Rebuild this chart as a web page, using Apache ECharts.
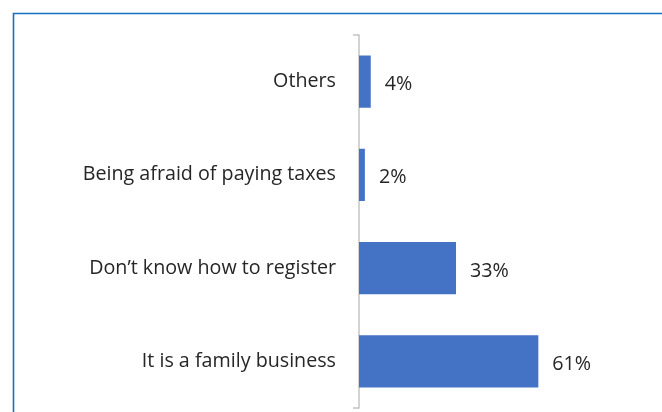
<!DOCTYPE html>
<html>
<head>
<meta charset="utf-8">
<script src="https://cdn.jsdelivr.net/npm/echarts@6/dist/echarts.min.js"></script>
<style>
  html, body { margin: 0; padding: 0; background: #fff; }
  #chart { width: 662px; height: 412px; }
</style>
</head>
<body>
<div id="chart"></div>
<script>
// Reasons, listed top to bottom
const categories = ['Others', 'Being afraid of paying taxes', 'Don\u2019t know how to register', 'It is a family business'];
const shares = [4, 2, 33, 61];

const chart = echarts.init(document.getElementById('chart'), null, { renderer: 'canvas' });
const font = '"Open Sans", "Noto Sans", sans-serif';
const axisGrey = '#c4c4c4';

chart.setOption({
  animation: false,
  backgroundColor: '#ffffff',
  graphic: [{
    type: 'rect',
    shape: { x: 13.5, y: 13.5, width: 720, height: 500 },
    style: { fill: 'none', stroke: '#1570c4', lineWidth: 1.6 },
    silent: true
  }],
  grid: { left: 359, right: 9, top: 35, bottom: 4, containLabel: false },
  xAxis: {
    type: 'value', min: 0, max: 100, show: false
  },
  yAxis: [{
    type: 'category',
    data: categories,
    inverse: true,
    axisLine: { show: true, lineStyle: { color: axisGrey, width: 1.5 } },
    axisTick: { show: false },
    axisLabel: { color: '#262626', fontFamily: font, fontSize: 19.7, margin: 23, padding: [4, 0, 0, 0] }
  }, {
    // single-band helper axis: puts tick marks only at the two ends
    type: 'category',
    data: [''],
    position: 'left',
    axisLine: { show: false },
    axisTick: { show: true, length: 6, lineStyle: { color: axisGrey, width: 1.5 } },
    axisLabel: { show: false }
  }],
  series: [{
    type: 'bar',
    data: shares,
    barCategoryGap: '44%',
    itemStyle: { color: '#4472c4' },
    label: {
      show: true, position: 'right', distance: 14, offset: [0, 3],
      formatter: p => p.value + '%',
      color: '#262626', fontFamily: font, fontSize: 19.7
    }
  }]
});
</script>
</body>
</html>
